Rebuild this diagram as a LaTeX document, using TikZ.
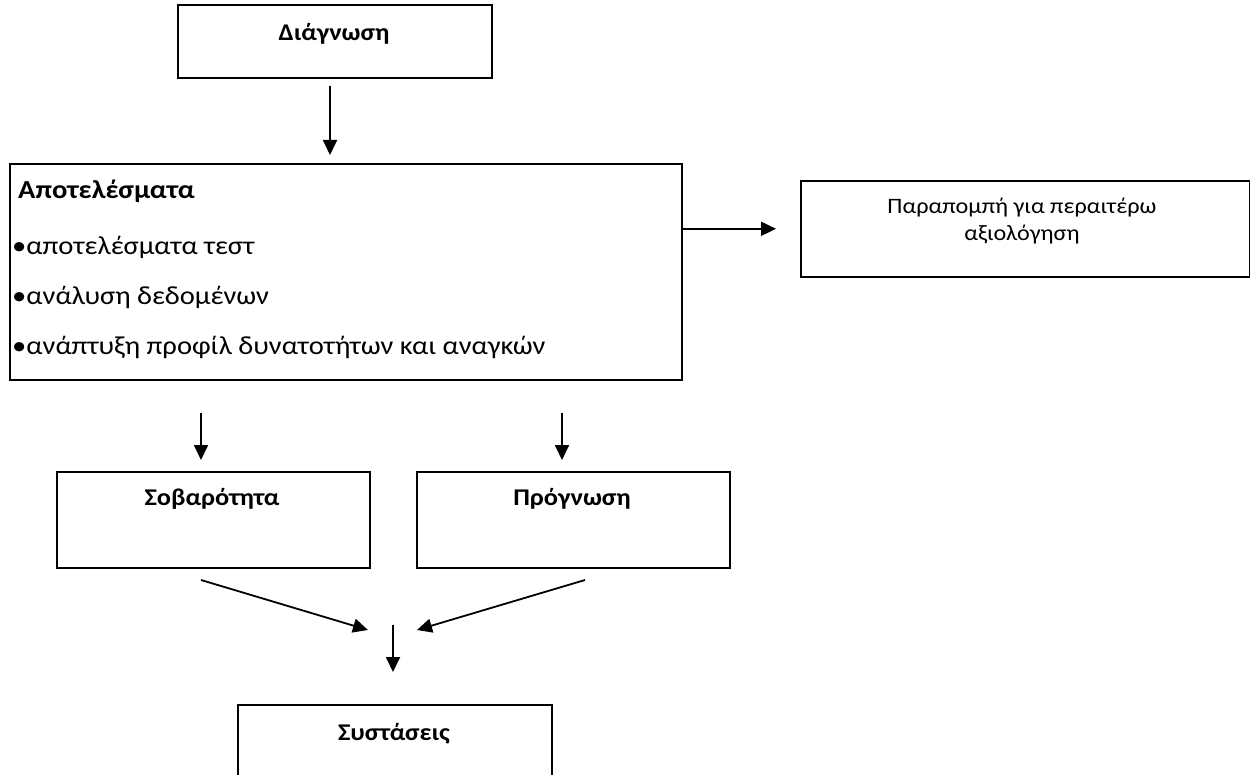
\documentclass[tikz,border=0pt]{standalone}
\usepackage{fontspec}
\setmainfont[FakeStretch=1.1]{Carlito}
\usetikzlibrary{arrows.meta}
\begin{document}
\begin{tikzpicture}[x=1pt,y=-1pt,
  box/.style={draw, line width=1.6pt, inner sep=0pt, anchor=north west},
  arr/.style={-{Triangle[length=15pt,width=14pt]}, line width=1.8pt},
  ttl/.style={font=\fontsize{24}{28}\selectfont\bfseries, anchor=base, inner sep=0pt},
  bl/.style={font=\fontsize{26}{30}\selectfont, anchor=base west, inner sep=0pt},
  txt/.style={font=\fontsize{22}{26}\selectfont, anchor=base, inner sep=0pt},
]
\clip (0,0) rectangle (1250,775);
\fill[white] (0,0) rectangle (1250,775);
% boxes
\node[box, minimum width=314pt, minimum height=73pt] (diag) at (177,4) {};
\node[box, minimum width=672pt, minimum height=216pt] (res) at (9,163) {};
\node[box, minimum width=449pt, minimum height=96pt] (ref) at (800,180) {};
\node[box, minimum width=313pt, minimum height=96pt] (sev) at (56,471) {};
\node[box, minimum width=313pt, minimum height=96pt] (prog) at (416,471) {};
\node[box, minimum width=314pt, minimum height=150pt] (rec) at (237,704) {};
% texts
\node[ttl] (diagT) at (334,41) {Διάγνωση};
\node[bl, font=\fontsize{26}{30}\selectfont\bfseries] (resT) at (18,199) {Αποτελέσματα};
\node[bl] (b1) at (12,255) {•αποτελέσματα τεστ};
\node[bl] (b2) at (12,305) {•ανάλυση δεδομένων};
\node[bl] (b3) at (12,355) {•ανάπτυξη προφίλ δυνατοτήτων και αναγκών};
\node[txt] (refT1) at (1022,214) {Παραπομπή για περαιτέρω};
\node[txt] (refT2) at (1022,241) {αξιολόγηση};
\node[ttl] (sevT) at (212,505) {Σοβαρότητα};
\node[ttl] (progT) at (572,505) {Πρόγνωση};
\node[ttl] (recT) at (394,740) {Συστάσεις};
% connectors
\draw[arr, shorten <=7pt, shorten >=8pt] (diag.south -| 330,0) -- (res.north -| 330,0);
\draw[arr, shorten >=24pt] (ref.west -| res.east) -- (ref.west);
\coordinate (d1) at (201,413);
\coordinate (d2) at (562,413);
\draw[arr, shorten >=11pt] (d1) -- (d1 |- sev.north);
\draw[arr, shorten >=11pt] (d2) -- (d2 |- prog.north);
\coordinate (s1) at (201,580);
\coordinate (t1) at (368,630);
\coordinate (s2) at (585,580);
\coordinate (t2) at (417,630);
\draw[arr] (s1) -- (t1);
\draw[arr] (s2) -- (t2);
\coordinate (v1) at (393,625);
\draw[arr, shorten >=32pt] (v1) -- (v1 |- rec.north);
\end{tikzpicture}
\end{document}
